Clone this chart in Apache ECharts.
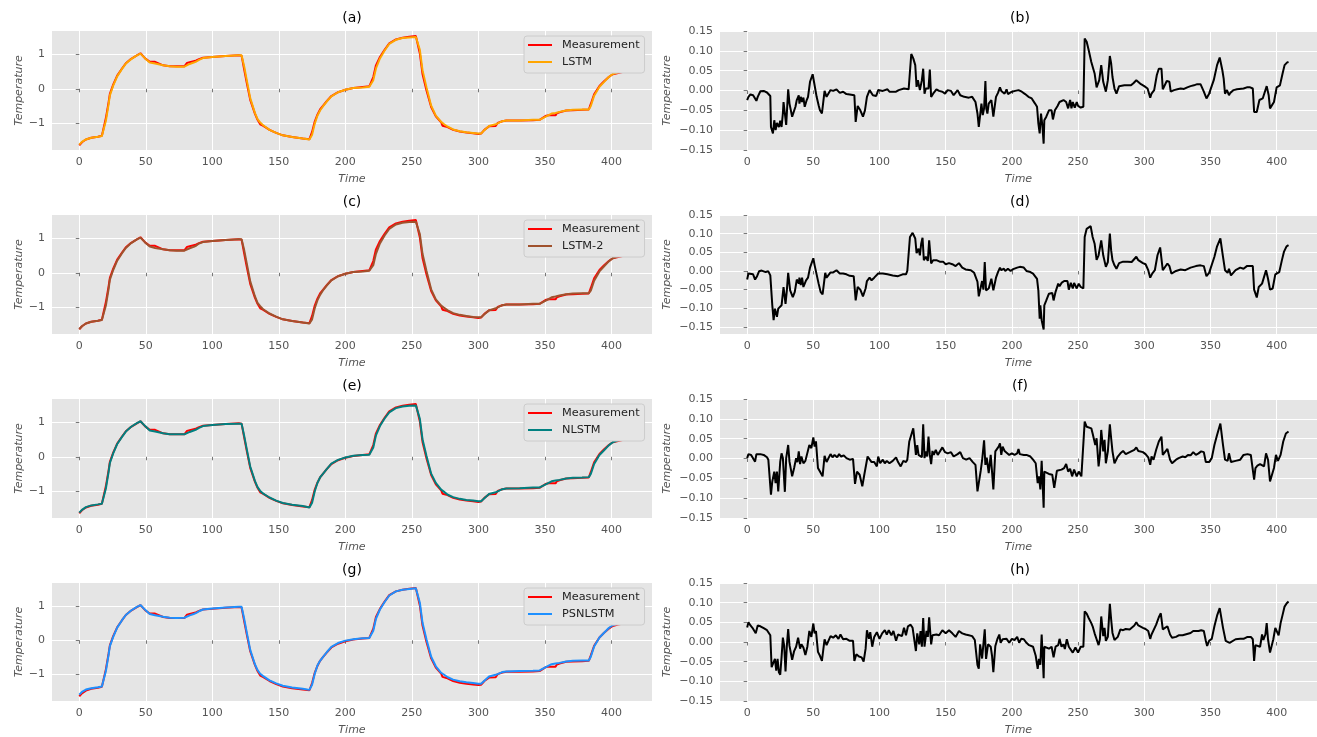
<!DOCTYPE html>
<html>
<head>
<meta charset="utf-8">
<script src="https://cdn.jsdelivr.net/npm/echarts@6/dist/echarts.min.js"></script>
<style>
html,body{margin:0;padding:0;background:#ffffff;}
#chart{width:1317px;height:737px;}
</style>
</head>
<body>
<div id="chart"></div>
<script>
// ---- tick labels and panel labels ----
const xTicks = [0, 50, 100, 150, 200, 250, 300, 350, 400];
const tempTicks = [-1, 0, 1];
const errTicks = [-0.15, -0.10, -0.05, 0, 0.05, 0.10, 0.15];
const leftTitles = ['(a)', '(c)', '(e)', '(g)'];
const rightTitles = ['(b)', '(d)', '(f)', '(h)'];
const modelNames = ['LSTM', 'LSTM-2', 'NLSTM', 'PSNLSTM'];

// ---- measured temperature [time, value] ----
const measurement = [[0,-1.64],[2,-1.55],[5,-1.47],[9,-1.42],[14,-1.39],[17,-1.36],[18,-1.32],[20,-0.85],[22,-0.40],[23,-0.15],[25.5,0.12],[28.5,0.38],[32,0.58],[35,0.74],[39,0.87],[43,0.96],[46,1.03],[47,1.0],[49.5,0.88],[53,0.78],[54,0.79],[57,0.78],[58,0.73],[63,0.68],[68,0.65],[73,0.65],[79,0.65],[80.5,0.67],[81,0.75],[83,0.77],[86,0.80],[88,0.82],[90,0.86],[93,0.90],[100,0.92],[110,0.95],[120,0.97],[122,0.96],[124,0.55],[126,0.15],[128.5,-0.32],[132,-0.72],[134,-0.90],[136,-1.03],[138,-1.07],[143,-1.19],[148,-1.28],[153,-1.35],[160,-1.40],[168,-1.44],[173,-1.46],[175,-1.25],[177,-0.95],[179,-0.75],[181,-0.60],[183,-0.50],[186,-0.36],[189.5,-0.21],[194.5,-0.10],[200,-0.03],[206,0.02],[213,0.05],[218,0.07],[219.5,0.10],[221,0.34],[223,0.68],[226,0.92],[229.5,1.13],[233,1.32],[238,1.43],[243,1.48],[248,1.51],[253,1.53],[254,1.52],[256,1.02],[258,0.43],[261,-0.05],[264.5,-0.53],[268,-0.80],[272,-0.97],[273,-1.07],[276,-1.10],[277,-1.13],[281,-1.19],[286,-1.24],[291,-1.27],[296,-1.29],[300,-1.31],[302,-1.30],[304.5,-1.19],[308,-1.09],[309,-1.09],[313,-1.08],[314.5,-0.99],[318,-0.94],[321,-0.92],[331,-0.92],[341,-0.91],[346,-0.90],[351,-0.78],[353,-0.77],[358,-0.77],[359,-0.71],[361,-0.68],[366,-0.63],[371,-0.62],[378,-0.61],[383,-0.60],[384.5,-0.44],[387,-0.16],[391,0.08],[394.5,0.22],[398,0.34],[401,0.42],[405,0.46],[410,0.50]];

// ---- model predictions [time, value] ----
const predLSTM = [[0,-1.62],[2,-1.54],[5,-1.47],[9,-1.42],[14,-1.39],[17,-1.37],[18,-1.34],[20,-0.93],[22,-0.46],[23,-0.19],[25.5,0.09],[28.5,0.36],[32,0.57],[35,0.73],[39,0.86],[43,0.96],[46,1.02],[47,1.0],[49.5,0.88],[53,0.76],[57,0.73],[63,0.68],[68,0.65],[73,0.64],[79,0.64],[80.5,0.65],[83,0.72],[86,0.76],[88,0.79],[90,0.84],[93,0.89],[100,0.92],[110,0.95],[120,0.97],[122,0.97],[124,0.64],[126,0.23],[128.5,-0.27],[132,-0.70],[134,-0.88],[136,-0.98],[138,-1.05],[143,-1.19],[148,-1.28],[153,-1.35],[160,-1.40],[168,-1.44],[173,-1.47],[175,-1.33],[177,-1.01],[179,-0.78],[181,-0.63],[183,-0.52],[186,-0.37],[189.5,-0.22],[194.5,-0.10],[200,-0.03],[206,0.02],[213,0.04],[218,0.06],[219.5,0.07],[221,0.25],[223,0.59],[226,0.88],[229.5,1.11],[233,1.30],[238,1.42],[243,1.47],[248,1.49],[253,1.50],[254,1.50],[256,1.13],[258,0.54],[261,0.04],[264.5,-0.49],[268,-0.78],[272,-0.96],[274,-1.02],[277,-1.10],[281,-1.18],[286,-1.23],[291,-1.26],[296,-1.28],[300,-1.30],[302,-1.30],[304.5,-1.20],[308,-1.08],[313,-1.03],[318,-0.94],[321,-0.92],[331,-0.92],[341,-0.90],[346,-0.90],[351,-0.80],[355,-0.72],[358,-0.70],[361,-0.67],[366,-0.63],[371,-0.61],[378,-0.60],[383,-0.60],[384.5,-0.50],[387,-0.20],[391,0.06],[394.5,0.20],[398,0.34],[401,0.43],[405,0.48],[410,0.52]];
const predLSTM2 = [[0,-1.63],[2,-1.55],[5,-1.47],[9,-1.42],[14,-1.39],[17,-1.37],[18,-1.34],[20,-0.95],[22,-0.48],[23,-0.20],[25.5,0.08],[28.5,0.35],[32,0.56],[35,0.72],[39,0.86],[43,0.96],[46,1.02],[47,1.0],[49.5,0.88],[53,0.76],[57,0.72],[63,0.68],[68,0.65],[73,0.64],[79,0.64],[80.5,0.65],[83,0.71],[86,0.75],[88,0.79],[90,0.85],[93,0.89],[100,0.92],[110,0.95],[120,0.97],[122,0.97],[124,0.65],[126,0.25],[128.5,-0.25],[132,-0.68],[134,-0.87],[136,-0.97],[138,-1.05],[143,-1.18],[148,-1.27],[153,-1.35],[160,-1.40],[168,-1.44],[173,-1.47],[175,-1.35],[177,-1.03],[179,-0.80],[181,-0.64],[183,-0.52],[186,-0.37],[189.5,-0.22],[194.5,-0.10],[200,-0.03],[206,0.02],[213,0.04],[218,0.06],[219.5,0.07],[221,0.22],[223,0.55],[226,0.85],[229.5,1.08],[233,1.27],[238,1.40],[243,1.45],[248,1.47],[253,1.48],[254,1.48],[256,1.12],[258,0.55],[261,0.05],[264.5,-0.48],[268,-0.77],[272,-0.95],[274,-1.01],[277,-1.09],[281,-1.17],[286,-1.22],[291,-1.25],[296,-1.28],[300,-1.29],[302,-1.29],[304.5,-1.20],[308,-1.09],[313,-1.03],[318,-0.94],[321,-0.92],[331,-0.92],[341,-0.90],[346,-0.90],[351,-0.80],[355,-0.71],[358,-0.69],[361,-0.66],[366,-0.62],[371,-0.60],[378,-0.59],[383,-0.59],[384.5,-0.52],[387,-0.23],[391,0.04],[394.5,0.19],[398,0.33],[401,0.42],[405,0.48],[410,0.52]];
const predNLSTM = [[0,-1.62],[2,-1.54],[5,-1.46],[9,-1.41],[14,-1.38],[17,-1.36],[18,-1.35],[20,-0.92],[22,-0.45],[23,-0.18],[25.5,0.10],[28.5,0.37],[32,0.57],[35,0.73],[39,0.87],[43,0.97],[46,1.03],[47,1.0],[49.5,0.89],[53,0.76],[57,0.73],[63,0.68],[68,0.65],[73,0.65],[79,0.65],[80.5,0.66],[83,0.72],[86,0.76],[88,0.79],[90,0.84],[93,0.89],[100,0.92],[110,0.95],[120,0.96],[122,0.96],[124,0.60],[126,0.20],[128.5,-0.28],[132,-0.70],[134,-0.88],[136,-0.99],[138,-1.06],[143,-1.18],[148,-1.27],[153,-1.34],[160,-1.39],[168,-1.43],[173,-1.47],[175,-1.33],[177,-1.00],[179,-0.76],[181,-0.60],[183,-0.50],[186,-0.36],[189.5,-0.20],[194.5,-0.09],[200,-0.02],[206,0.03],[213,0.05],[218,0.06],[219.5,0.07],[221,0.27],[223,0.62],[226,0.89],[229.5,1.11],[233,1.29],[238,1.41],[243,1.46],[248,1.48],[253,1.49],[254,1.49],[256,1.10],[258,0.51],[261,0.02],[264.5,-0.49],[268,-0.76],[272,-0.95],[274,-1.01],[277,-1.10],[281,-1.17],[286,-1.22],[291,-1.25],[296,-1.27],[300,-1.29],[302,-1.29],[304.5,-1.20],[308,-1.08],[313,-1.03],[318,-0.94],[321,-0.92],[331,-0.91],[341,-0.89],[346,-0.89],[351,-0.79],[355,-0.71],[358,-0.69],[361,-0.67],[366,-0.63],[371,-0.61],[378,-0.60],[383,-0.59],[384.5,-0.50],[387,-0.21],[391,0.05],[394.5,0.19],[398,0.33],[401,0.42],[405,0.48],[410,0.52]];
const predPSNLSTM = [[0,-1.59],[2,-1.51],[5,-1.44],[9,-1.40],[14,-1.37],[17,-1.35],[18,-1.33],[20,-0.90],[22,-0.43],[23,-0.17],[25.5,0.10],[28.5,0.37],[32,0.58],[35,0.74],[39,0.87],[43,0.97],[46,1.03],[47,1.01],[49.5,0.89],[53,0.77],[57,0.73],[63,0.69],[68,0.66],[73,0.65],[79,0.66],[80.5,0.67],[83,0.73],[86,0.77],[88,0.80],[90,0.85],[93,0.90],[100,0.93],[110,0.96],[120,0.98],[122,0.98],[124,0.62],[126,0.21],[128.5,-0.28],[132,-0.70],[134,-0.87],[136,-0.98],[138,-1.04],[143,-1.17],[148,-1.26],[153,-1.33],[160,-1.38],[168,-1.42],[173,-1.45],[175,-1.30],[177,-0.98],[179,-0.74],[181,-0.60],[183,-0.50],[186,-0.35],[189.5,-0.19],[194.5,-0.08],[200,-0.01],[206,0.03],[213,0.06],[218,0.07],[219.5,0.08],[221,0.28],[223,0.63],[226,0.90],[229.5,1.12],[233,1.31],[238,1.43],[243,1.48],[248,1.50],[253,1.52],[254,1.52],[256,1.10],[258,0.51],[261,0.02],[264.5,-0.48],[268,-0.76],[272,-0.95],[274,-1.00],[277,-1.08],[281,-1.15],[286,-1.20],[291,-1.23],[296,-1.25],[300,-1.27],[302,-1.27],[304.5,-1.18],[308,-1.06],[313,-1.01],[318,-0.93],[321,-0.91],[331,-0.90],[341,-0.89],[346,-0.88],[351,-0.78],[355,-0.70],[358,-0.68],[361,-0.66],[366,-0.62],[371,-0.60],[378,-0.59],[383,-0.59],[384.5,-0.48],[387,-0.18],[391,0.08],[394.5,0.22],[398,0.36],[401,0.44],[405,0.49],[410,0.53]];

// ---- prediction error [time, value] ----
const errLSTM = [[0,-0.024],[1,-0.016],[2.5,-0.010],[4.5,-0.012],[6,-0.020],[7,-0.026],[8,-0.016],[10,-0.002],[12.5,-0.001],[15,-0.005],[16,-0.004],[17.5,-0.014],[18,-0.092],[19.5,-0.108],[20.5,-0.075],[21.5,-0.100],[22.5,-0.082],[24,-0.092],[25,-0.076],[26,-0.092],[27,-0.058],[27.5,-0.029],[28.5,-0.058],[29.5,-0.087],[31,0.003],[32,-0.033],[34,-0.066],[35,-0.071],[36.5,-0.041],[37.5,-0.024],[39,-0.012],[39.5,-0.033],[40.5,-0.016],[41.5,-0.029],[42.5,-0.018],[43.5,-0.041],[45,-0.024],[46,-0.016],[47.5,0.022],[48.5,0.018],[49.5,0.041],[50.5,0.022],[51.5,0.019],[52.5,-0.016],[54,-0.037],[55,-0.050],[56.5,-0.058],[58.5,-0.001],[60,-0.016],[61.5,-0.020],[63,0.001],[65,-0.001],[67.5,0.003],[70,-0.006],[72.5,-0.003],[75,-0.009],[77.5,-0.010],[81,-0.012],[82,-0.079],[83.5,-0.039],[85.5,-0.050],[87.5,-0.066],[89,-0.050],[90.5,-0.016],[92.5,0.001],[95,-0.012],[97.5,-0.014],[99,0.001],[102.5,-0.001],[106,0.003],[107.5,-0.003],[112.5,-0.003],[114.5,0.001],[116,-0.004],[118.5,0.005],[122,0.003],[124,0.092],[125.5,0.081],[127,0.064],[128,0.009],[129,0.026],[130.5,0.001],[132,0.026],[133,0.055],[134,-0.008],[135,0.005],[137,0.005],[138,0.053],[139,-0.016],[140.5,-0.008],[143,0.003],[145,-0.001],[147.5,-0.003],[149.5,-0.008],[151.5,0.001],[154,-0.001],[156,-0.012],[159,0.001],[161,-0.012],[164,-0.016],[167.5,-0.018],[170,-0.016],[172.5,-0.029],[174,-0.058],[175,-0.092],[176,-0.087],[177,-0.033],[178,-0.062],[179,-0.045],[180,0.024],[180.7,-0.046],[181.5,-0.058],[182.5,-0.033],[184.5,-0.024],[186,-0.066],[188,-0.016],[189.5,-0.006],[191,0.008],[192,-0.001],[193,0.003],[194.5,-0.008],[196,0.003],[197,-0.009],[198,-0.006],[200,-0.003],[202.5,-0.001],[205,0.001],[207.5,-0.003],[210,-0.009],[212.5,-0.016],[215,-0.020],[217.5,-0.033],[219,-0.041],[220,-0.083],[221,-0.108],[222,-0.058],[223,-0.087],[224,-0.134],[224.5,-0.075],[226,-0.066],[228,-0.050],[230,-0.050],[231,-0.073],[232.5,-0.050],[234.5,-0.039],[236,-0.029],[237.5,-0.034],[239,-0.024],[240,-0.023],[241,-0.029],[242.5,-0.045],[244,-0.024],[245,-0.045],[246,-0.029],[247.5,-0.043],[249,-0.029],[250,-0.039],[252,-0.043],[254,-0.041],[255,0.131],[256.5,0.123],[258,0.102],[259,0.097],[260,0.072],[261,0.068],[262.5,0.043],[264,0.008],[265,0.011],[266,0.026],[267.5,0.064],[269,0.022],[270,0.026],[271,-0.003],[272.5,0.026],[274,0.087],[275,0.068],[276,0.034],[277.5,0.005],[279,-0.008],[280,-0.009],[281,0.011],[282.5,0.016],[285,0.013],[290,0.013],[292,0.019],[294,0.026],[295,0.022],[297.5,0.016],[300,0.011],[302.5,0.005],[304.5,-0.018],[305.5,-0.008],[307.5,0.001],[309.5,0.039],[311,0.055],[313,0.055],[314,0.003],[315,0.001],[317,0.024],[319,0.022],[320,-0.003],[322.5,0.001],[325,0.003],[327.5,0.005],[330,0.004],[332.5,0.008],[335,0.011],[337.5,0.013],[340,0.016],[342.5,0.016],[344,0.013],[345,-0.003],[347,-0.020],[349,-0.008],[350,-0.008],[352.5,0.026],[355,0.064],[357,0.083],[359,0.051],[360,0.030],[361,-0.008],[362.5,0.001],[364,-0.012],[365,-0.006],[367.5,0.001],[370,0.003],[375,0.005],[377.5,0.008],[380,0.008],[382,0.005],[383,-0.054],[385,-0.054],[387,-0.024],[389.5,-0.020],[391,-0.023],[392.5,0.011],[394,-0.012],[395,-0.045],[396.5,-0.050],[398,-0.029],[400,0.008],[401,0.003],[402.5,0.013],[404.5,0.043],[406,0.064],[408,0.071],[409,0.072]];
const errLSTM2 = [[0,-0.023],[1,-0.007],[2.5,-0.005],[4.5,-0.009],[6,-0.023],[7.5,-0.014],[9,-0.001],[11,0.001],[14,-0.003],[16,-0.001],[17.5,-0.012],[19,-0.092],[20,-0.132],[21,-0.101],[22.5,-0.123],[23.5,-0.101],[25,-0.104],[26,-0.092],[27.5,-0.043],[29,-0.088],[30,-0.052],[31,-0.005],[32.5,-0.052],[34.5,-0.070],[36,-0.056],[37.5,-0.023],[39,-0.034],[39.5,-0.018],[40.5,-0.038],[41.5,-0.018],[42.5,-0.043],[44.5,-0.025],[46,-0.018],[47.5,0.009],[48.5,0.004],[50,0.034],[51,0.015],[52.5,0.020],[54,-0.034],[55.5,-0.056],[57,-0.063],[59,-0.005],[60,-0.018],[61.5,-0.021],[63,-0.004],[65,-0.004],[67.5,0.002],[70,-0.007],[72.5,-0.007],[75,-0.009],[77.5,-0.013],[80.5,-0.014],[82,-0.079],[83.5,-0.043],[85.5,-0.050],[87.5,-0.068],[89.5,-0.047],[90.5,-0.027],[92.5,-0.018],[94,-0.025],[96,-0.018],[99,-0.007],[102.5,-0.007],[106,-0.009],[110,-0.012],[114,-0.014],[117.5,-0.009],[120,-0.009],[121,0.000],[123,0.091],[125,0.102],[127,0.087],[128,0.048],[129.5,0.060],[130.5,0.042],[131.5,0.073],[132.5,0.089],[133.5,0.029],[135,0.038],[136.5,0.027],[137.5,0.082],[139,0.020],[140.5,0.029],[143,0.029],[145.5,0.025],[148,0.025],[150,0.018],[152.5,0.021],[155,0.018],[157.5,0.013],[160,0.021],[162.5,0.009],[165,0.004],[169,0.002],[171.5,-0.005],[174,-0.029],[175,-0.068],[176,-0.070],[177.5,-0.027],[178.5,-0.050],[179.5,0.024],[180.5,-0.052],[182.5,-0.047],[184.5,-0.021],[186,-0.052],[188,-0.018],[189.5,-0.003],[191,0.009],[192,0.002],[194,0.006],[195,0.000],[197,0.006],[199,0.000],[201,0.005],[204,0.009],[206,0.011],[209,0.009],[211,0.000],[214,-0.003],[216,-0.007],[219,-0.021],[220,-0.052],[221,-0.128],[221.5,-0.092],[222.5,-0.132],[224,-0.157],[224.5,-0.092],[226,-0.079],[228,-0.061],[230.5,-0.059],[231.5,-0.079],[233,-0.056],[235,-0.034],[236,-0.041],[237.5,-0.032],[239.5,-0.027],[240.5,-0.025],[242,-0.027],[243,-0.050],[244.5,-0.032],[246,-0.047],[247,-0.032],[249,-0.047],[250.5,-0.034],[252,-0.043],[254,-0.047],[255,0.091],[256.5,0.113],[258,0.118],[259.5,0.120],[261,0.091],[262.5,0.073],[264,0.030],[265.5,0.042],[266.5,0.038],[267.5,0.082],[269,0.042],[270,0.046],[271,0.011],[272.5,0.024],[274,0.100],[275,0.055],[276,0.029],[277.5,0.015],[279,0.006],[280,0.002],[281,0.021],[284,0.025],[287.5,0.025],[290.5,0.024],[292,0.030],[294,0.038],[295.5,0.029],[299,0.021],[301,0.018],[303,0.002],[304.5,-0.018],[306,-0.007],[308,0.002],[310,0.042],[312,0.063],[313,0.060],[314,0.002],[315.5,0.002],[317.5,0.020],[319,0.013],[320.5,-0.007],[324,0.000],[327.5,0.004],[331,0.002],[335,0.009],[339,0.013],[342.5,0.015],[345,0.013],[347,-0.014],[349,-0.005],[350.5,-0.005],[353,0.038],[355,0.066],[357.5,0.087],[359.5,0.038],[360.5,0.033],[361,0.002],[363,-0.005],[364,0.006],[365.5,-0.012],[369,0.002],[372.5,0.009],[375,0.006],[377.5,0.013],[382,0.013],[383,-0.050],[385,-0.071],[386.5,-0.043],[389,-0.034],[390.5,-0.034],[392,0.002],[393.5,-0.021],[395,-0.050],[397,-0.047],[399,-0.009],[400.5,-0.012],[402,-0.003],[404,0.029],[405.5,0.051],[407.5,0.066],[409,0.069]];
const errNLSTM = [[0,0.001],[1,0.011],[2,0.016],[3,0.009],[4.5,0.005],[6,-0.008],[7,0.011],[8,0.014],[10,0.011],[12.5,0.009],[15,0.003],[16,-0.003],[17,-0.008],[18,-0.091],[19,-0.058],[20.5,-0.033],[21.5,-0.062],[22.5,-0.033],[23.5,-0.083],[25,-0.008],[26,0.013],[27,0.001],[28.5,-0.084],[29.5,0.001],[31,0.034],[32,-0.008],[34,-0.045],[35.5,-0.024],[37,0.001],[38,-0.009],[39,0.018],[40,-0.014],[41,0.005],[42.5,-0.012],[44,-0.006],[45.5,-0.003],[47,0.034],[48.5,0.026],[50,0.053],[51,0.030],[52,0.043],[53.5,-0.024],[55,-0.033],[57,-0.045],[58.5,0.007],[60,-0.009],[61.5,-0.009],[63,0.011],[64.5,0.003],[66,0.009],[68,0.003],[69.5,0.011],[71,0.005],[73,0.008],[75,0.001],[77.5,-0.003],[80,-0.001],[81.5,-0.064],[83,-0.033],[85,-0.041],[87,-0.070],[88.5,-0.041],[90,-0.041],[91,0.005],[92.5,0.003],[94,-0.009],[96,-0.009],[98,-0.020],[99,0.005],[100.5,-0.012],[102.5,-0.003],[104,-0.012],[105.5,-0.006],[107.5,-0.012],[110,-0.006],[112.5,0.003],[114,-0.009],[115,-0.006],[116,-0.020],[118,-0.006],[120,-0.009],[121,-0.003],[122.5,0.043],[124,0.047],[125.5,0.076],[126.5,0.043],[127.5,0.009],[128.5,0.034],[129.5,0.009],[131,0.005],[132,0.003],[133,0.086],[134,0.001],[135,0.018],[136,0.005],[137,0.055],[138,0.009],[139,-0.014],[140,0.019],[141,0.009],[142.5,0.022],[144,0.009],[145.5,0.013],[147.5,0.028],[149.5,0.016],[151.5,0.013],[154,0.016],[156,0.005],[159,0.011],[161,0.016],[163,0.001],[165.5,-0.003],[168,0.001],[170.5,-0.009],[172.5,-0.016],[174,-0.083],[175,-0.078],[176.5,-0.030],[177.5,-0.005],[179,0.046],[180,-0.016],[181,0.002],[182.5,-0.037],[184,0.009],[185,-0.033],[186,-0.078],[187.5,0.018],[189,0.016],[190,0.030],[191,0.038],[192,0.009],[193,0.030],[194.5,0.019],[196,0.022],[198,0.009],[200,0.013],[202,0.009],[204,0.013],[205,0.024],[206,0.011],[209,0.009],[211,0.009],[214,0.005],[216,-0.003],[218,-0.012],[219.5,-0.062],[220.5,-0.045],[221.5,-0.078],[222.5,-0.006],[224,-0.124],[224.5,-0.033],[226,-0.037],[228,-0.039],[230.5,-0.041],[232,-0.074],[234,-0.031],[235.5,-0.028],[237.5,-0.028],[239.5,-0.024],[241,-0.014],[242.5,-0.033],[244,-0.026],[245.5,-0.045],[247,-0.028],[249,-0.045],[250.5,-0.033],[252.5,-0.045],[254,-0.048],[255,0.093],[256.5,0.080],[258,0.080],[260,0.076],[261,0.063],[263,0.034],[264,0.051],[265.5,-0.020],[266.5,0.009],[267.5,0.072],[269,0.018],[270,0.047],[271,-0.012],[272.5,0.018],[274,0.086],[275,0.051],[276,0.018],[277.5,-0.012],[279,-0.016],[280,0.005],[282,0.013],[284,0.019],[286,0.011],[289,0.016],[290.5,0.016],[292.5,0.022],[294,0.028],[295.5,0.019],[299,0.016],[301,0.011],[303,0.003],[304.5,-0.016],[305.5,0.005],[307,-0.003],[309,0.022],[311,0.043],[313,0.055],[314,0.009],[315.5,0.013],[317.5,0.024],[319.5,-0.003],[321,-0.012],[324,-0.003],[326,0.001],[329,0.005],[331,0.003],[333,0.009],[335,0.008],[337,0.016],[339,0.009],[341,0.013],[343,0.018],[345,0.016],[346.5,-0.009],[349,-0.009],[351,0.001],[353,0.034],[355,0.059],[357.5,0.088],[359.5,0.034],[361,-0.003],[363,-0.006],[364,0.013],[365.5,-0.009],[369,-0.006],[372.5,-0.003],[375,0.009],[378,0.011],[380.5,0.009],[382,0.011],[383,-0.053],[384,-0.024],[385.5,-0.018],[387.5,-0.014],[389,-0.009],[390.5,-0.020],[392,0.013],[393.5,-0.003],[395,-0.058],[396.5,-0.062],[398,-0.024],[399.5,0.009],[401,-0.006],[403,0.009],[405,0.043],[407,0.063],[409,0.068]];
const errPSNLSTM = [[0,0.037],[1,0.050],[2.5,0.042],[4,0.036],[5.5,0.033],[6.5,0.022],[8,0.042],[10,0.040],[12.5,0.035],[15,0.030],[16.5,0.025],[17.5,0.017],[18.5,-0.064],[20,-0.064],[21,-0.043],[22,-0.073],[23,-0.043],[24,-0.077],[25,-0.083],[26,-0.039],[27,0.011],[28,-0.010],[29,-0.075],[30,-0.010],[31,0.033],[32,-0.010],[34,-0.045],[35.5,-0.023],[37,-0.012],[38.5,0.011],[40,-0.017],[41,-0.006],[42.5,-0.014],[44,-0.033],[45.5,-0.012],[47,0.028],[48.5,0.013],[50,0.047],[51,0.022],[52,0.028],[53.5,-0.025],[55,-0.035],[56.5,-0.048],[58.5,0.007],[60,-0.008],[61.5,-0.007],[63,0.015],[65,0.011],[67,0.017],[69,0.008],[70.5,0.019],[72.5,0.007],[75,0.008],[77.5,0.003],[80,0.003],[81,-0.048],[82.5,-0.031],[84.5,-0.037],[86.5,-0.039],[88,-0.050],[89.5,-0.017],[90.5,0.030],[92,0.008],[93,0.025],[94.5,-0.012],[96,0.013],[98,0.025],[100,0.008],[102,0.022],[104,0.030],[105.5,0.019],[107,0.030],[109,0.017],[110.5,0.028],[112.5,0.003],[114,0.019],[115.5,0.022],[117,0.015],[118.5,0.036],[120,0.017],[121.5,0.040],[123.5,0.044],[125,0.036],[126.5,0.040],[127.5,-0.023],[128.5,0.022],[130,-0.006],[131,0.028],[132,-0.012],[133,0.061],[134,-0.012],[135.5,0.028],[136.5,0.013],[137.5,0.063],[139,-0.006],[140,0.017],[141.5,0.013],[143,0.019],[145,0.017],[147.5,0.030],[150,0.022],[152.5,0.030],[155,0.022],[157.5,0.013],[160,0.028],[162.5,0.022],[165,0.019],[167.5,0.017],[170,0.015],[172,0.005],[174,-0.058],[175,-0.068],[176,-0.006],[177.5,-0.042],[179.5,0.032],[180.5,-0.043],[182,-0.006],[184,-0.012],[185,-0.035],[186,-0.077],[187.5,-0.010],[189,0.007],[190.5,0.019],[191.5,-0.002],[193,0.007],[194.5,0.003],[196,0.008],[198,-0.002],[200,0.008],[202,0.005],[204,0.013],[205.5,-0.002],[207,0.008],[209,0.007],[211,-0.002],[213,-0.008],[214.5,-0.006],[216,-0.012],[218,-0.035],[219.5,-0.068],[220.5,-0.043],[221.5,-0.058],[222.5,0.019],[224,-0.092],[224.5,-0.012],[226,-0.008],[228,-0.017],[230,-0.012],[231.5,-0.039],[233,-0.012],[235,-0.008],[236,0.008],[237.5,-0.012],[239,-0.006],[240,-0.018],[241.5,0.007],[243,-0.012],[244.5,-0.017],[246,-0.027],[248,-0.014],[250,-0.027],[252,-0.012],[254,-0.012],[255,0.078],[256.5,0.072],[258,0.061],[260,0.048],[261,0.040],[262.5,0.022],[264,0.007],[265.5,-0.008],[266.5,0.007],[267.5,0.065],[269,0.015],[270,0.036],[271,0.003],[272.5,0.013],[274,0.097],[275,0.057],[276,0.023],[277.5,0.005],[279,0.003],[280,0.013],[282,0.032],[284,0.030],[286,0.033],[289,0.032],[290.5,0.036],[292.5,0.042],[294,0.050],[295.5,0.042],[299,0.036],[301,0.033],[303,0.028],[304.5,0.008],[305.5,0.019],[307,0.022],[309,0.044],[311,0.063],[312.5,0.073],[314,0.032],[315.5,0.033],[317.5,0.040],[319.5,0.019],[321,0.011],[324,0.013],[326,0.017],[329,0.017],[331,0.019],[335,0.023],[337,0.028],[341,0.028],[343,0.030],[345,0.028],[346.5,0.003],[347.5,-0.010],[349,0.003],[351,0.008],[353,0.040],[355,0.067],[357,0.086],[359.5,0.036],[360.5,0.033],[361.5,0.003],[363,0.007],[364.5,-0.002],[365.5,0.000],[369,0.007],[372.5,0.008],[375,0.008],[378,0.013],[380.5,0.013],[382,0.007],[383,-0.048],[384,-0.008],[385.5,-0.008],[387.5,-0.012],[389,0.019],[390,0.005],[391.5,0.019],[392.5,0.048],[393.5,0.007],[395,-0.027],[396,-0.031],[397.5,0.007],[399,0.036],[400,0.032],[401.5,0.017],[403,0.048],[404.5,0.069],[406,0.090],[407.5,0.098],[409,0.103]];

// ---- per-row series lookup ----
const predictions = [predLSTM, predLSTM2, predNLSTM, predPSNLSTM];
const errors = [errLSTM, errLSTM2, errNLSTM, errPSNLSTM];

// ---- layout & style ----
const FONT = 'DejaVu Sans';
const TICK_GRAY = '#555555';
const PANEL_BG = '#E5E5E5';
const rowTops = [31, 215, 399, 583];
const panelH = 119;
const panelW = 600;
const leftX = 52;
const rightX = 720;
const xRange = [-20.5, 430.5];
const tempRange = [-1.775, 1.675];
const errRanges = [[-0.15, 0.15], [-0.169, 0.15], [-0.15, 0.15], [-0.15, 0.15]];
const modelColors = ['#FFA500', '#A0522D', '#008080', '#1E90FF'];
const measColor = '#FF0000';
const LINE_W = 2;

const minusFmt = s => s.replace('-', '\u2212');

const grids = [], xAxes = [], yAxes = [], series = [], titles = [], legends = [];

function makeXAxis(gi) {
  return {
    gridIndex: gi, type: 'value', min: xRange[0], max: xRange[1], splitNumber: 9,
    axisLine: { show: false },
    axisTick: { show: true, length: 3.5, lineStyle: { color: TICK_GRAY, width: 0.8 }, customValues: xTicks },
    axisLabel: { color: TICK_GRAY, fontSize: 11, fontFamily: FONT, margin: 7, customValues: xTicks,
      formatter: v => minusFmt(String(v)) },
    splitLine: { show: true, lineStyle: { color: '#FFFFFF', width: 1 } },
    name: 'Time', nameLocation: 'middle', nameGap: 24,
    nameTextStyle: { fontStyle: 'italic', color: TICK_GRAY, fontSize: 11, fontFamily: FONT }
  };
}

function makeYAxis(gi, range, ticks, nameGap, digits, splitNumber) {
  return {
    gridIndex: gi, type: 'value', min: range[0], max: range[1], splitNumber: splitNumber,
    axisLine: { show: false },
    axisTick: { show: true, length: 3.5, lineStyle: { color: TICK_GRAY, width: 0.8 }, customValues: ticks },
    axisLabel: { color: TICK_GRAY, fontSize: 11, fontFamily: FONT, margin: 7, customValues: ticks,
      formatter: v => minusFmt(v.toFixed(digits)) },
    splitLine: { show: true, lineStyle: { color: '#FFFFFF', width: 1 } },
    name: 'Temperature', nameLocation: 'middle', nameGap: nameGap,
    nameTextStyle: { fontStyle: 'italic', color: TICK_GRAY, fontSize: 11, fontFamily: FONT }
  };
}

for (let r = 0; r < 4; r++) {
  const top = rowTops[r];
  const gL = 2 * r, gR = 2 * r + 1;

  grids.push({ left: leftX, top: top, width: panelW, height: panelH, show: true,
               backgroundColor: PANEL_BG, borderWidth: 0, containLabel: false });
  grids.push({ left: rightX, top: top, width: panelW, height: panelH, show: true,
               backgroundColor: PANEL_BG, borderWidth: 0, containLabel: false });

  xAxes.push(makeXAxis(gL));
  xAxes.push(makeXAxis(gR));
  yAxes.push(makeYAxis(gL, tempRange, tempTicks, 27, 0, 3));
  yAxes.push(makeYAxis(gR, errRanges[r], errTicks, 47, 2, 6));

  series.push({
    type: 'line', name: 'Measurement', xAxisIndex: gL, yAxisIndex: gL,
    data: measurement, symbol: 'none', showSymbol: false, color: measColor,
    lineStyle: { color: measColor, width: LINE_W }, itemStyle: { color: measColor },
    animation: false, z: 2
  });
  series.push({
    type: 'line', name: modelNames[r], xAxisIndex: gL, yAxisIndex: gL,
    data: predictions[r], symbol: 'none', showSymbol: false, color: modelColors[r],
    lineStyle: { color: modelColors[r], width: LINE_W }, itemStyle: { color: modelColors[r] },
    animation: false, z: 3
  });
  series.push({
    type: 'line', name: modelNames[r] + ' error', xAxisIndex: gR, yAxisIndex: gR,
    data: errors[r], symbol: 'none', showSymbol: false, color: '#000000',
    lineStyle: { color: '#000000', width: LINE_W }, animation: false, z: 2
  });

  titles.push({ text: leftTitles[r], left: leftX + panelW / 2, top: top - 20, textAlign: 'center', padding: 0,
                textStyle: { fontSize: 14, fontWeight: 'normal', color: '#000000', fontFamily: FONT } });
  titles.push({ text: rightTitles[r], left: rightX + panelW / 2, top: top - 20, textAlign: 'center', padding: 0,
                textStyle: { fontSize: 14, fontWeight: 'normal', color: '#000000', fontFamily: FONT } });

  legends.push({
    left: 524, top: top + 5, orient: 'vertical',
    data: ['Measurement', modelNames[r]],
    icon: 'rect', itemWidth: 24, itemHeight: 2, itemGap: 3,
    padding: [2, 5, 4, 4],
    backgroundColor: PANEL_BG, borderColor: '#CCCCCC', borderWidth: 1, borderRadius: 3,
    selectedMode: false,
    itemStyle: { borderWidth: 0 },
    textStyle: { fontSize: 11.3, color: '#222222', fontFamily: FONT, lineHeight: 14, padding: [0, 0, 0, 5] }
  });
}

const chart = echarts.init(document.getElementById('chart'), null, { renderer: 'canvas' });
chart.setOption({
  backgroundColor: '#FFFFFF',
  animation: false,
  title: titles,
  legend: legends,
  grid: grids,
  xAxis: xAxes,
  yAxis: yAxes,
  series: series
});
</script>
</body>
</html>
